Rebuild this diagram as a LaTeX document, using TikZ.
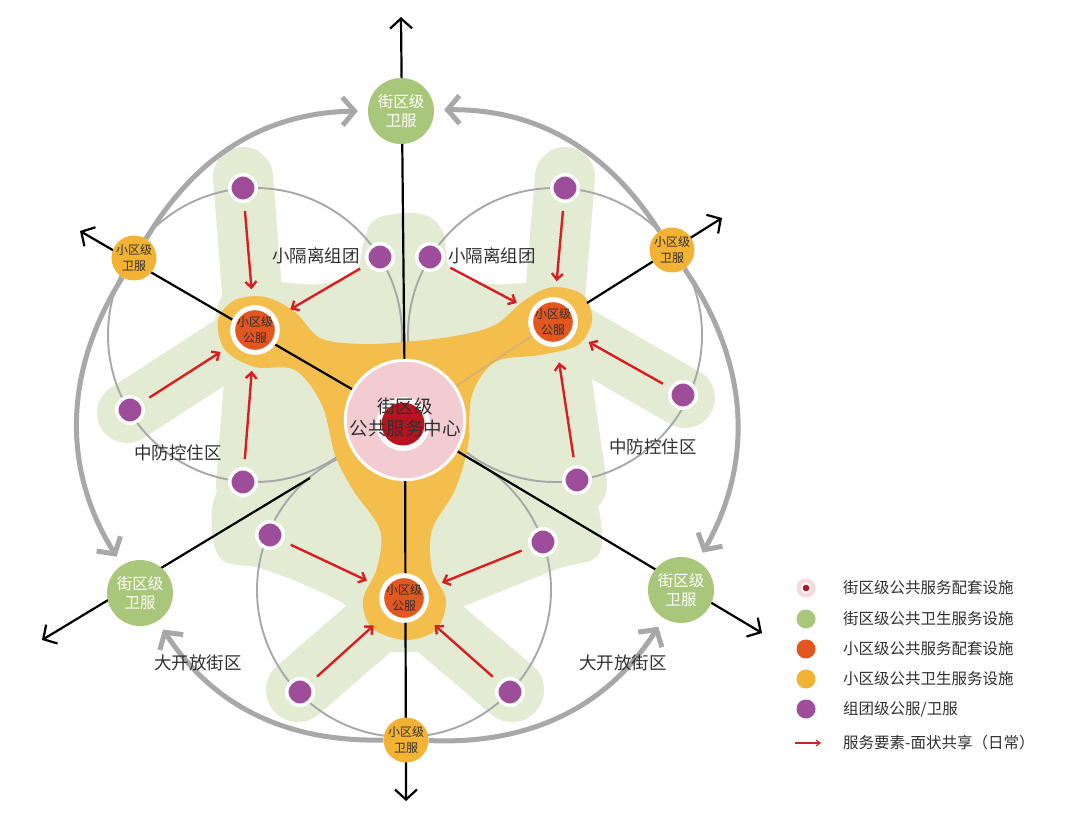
\documentclass[tikz,border=0pt]{standalone}
\usepackage{fontspec}
\setmainfont{Noto Sans CJK SC}
\usetikzlibrary{arrows.meta,calc}
\definecolor{leafgreen}{HTML}{E3EBD3}
\definecolor{amber}{HTML}{F4BE4C}
\definecolor{rust}{HTML}{E2561F}
\definecolor{sage}{HTML}{A9C77A}
\definecolor{gold}{HTML}{F2B234}
\definecolor{plum}{HTML}{9E4D9A}
\definecolor{blush}{HTML}{F2CCD0}
\definecolor{crimson}{HTML}{B9141E}
\definecolor{arrowred}{HTML}{D81E23}
\definecolor{ringgray}{HTML}{A8A8A8}
\definecolor{tanline}{HTML}{D6B071}
\definecolor{ink}{HTML}{303030}
\pgfdeclarelayer{blob}
\pgfdeclarelayer{axis}
\pgfsetlayers{blob,axis,main}

\begin{document}
\begin{tikzpicture}[x=1pt,y=1pt]
\tikzstyle{zutuan}=[circle,fill=plum,draw=white,line width=3.5pt,minimum size=26.5pt,inner sep=0pt]
\tikzstyle{gongfu}=[circle,fill=rust,draw=white,line width=5pt,minimum size=44pt,inner sep=0pt,align=center,text=ink,font=\fontsize{12}{15.5}\selectfont]
\tikzstyle{jiequ}=[circle,fill=sage,minimum size=66pt,inner sep=0pt,align=center,text=white,font=\fontsize{15.5}{19.5}\selectfont]
\tikzstyle{xiaoqu}=[circle,fill=gold,minimum size=44pt,inner sep=0pt,align=center,text=ink,font=\fontsize{12}{16}\selectfont]
\tikzstyle{hub}=[circle,fill=blush,draw=white,line width=3pt,minimum size=111pt,inner sep=0pt,text=ink,font=\fontsize{18.5}{22}\selectfont,
  path picture={\fill[white] ([shift={(-2pt,-4pt)}]path picture bounding box.center) circle[radius=27pt];
                \fill[crimson] ([shift={(-2pt,-4pt)}]path picture bounding box.center) circle[radius=21.5pt];}]
\tikzstyle{zone}=[inner sep=0pt,text=ink,font=\fontsize{17.5}{20}\selectfont]
\tikzstyle{flow}=[draw=arrowred,line width=2.4pt,-{Straight Barb[length=6pt,width=11pt]},shorten <=8pt,shorten >=16pt]
\tikzstyle{axisline}=[draw=black,line width=2.2pt]
\tikzstyle{tip}=[-{Straight Barb[length=10pt,width=22pt]}]
\tikzstyle{ring}=[draw=ringgray,line width=5pt,-{Straight Barb[length=12pt,width=28pt]},shorten >=10pt]
\tikzstyle{thinring}=[draw=ringgray,line width=1.9pt]
\tikzstyle{finger}=[draw=leafgreen,line width=60pt,line cap=round]
\tikzstyle{key}=[circle,minimum size=19pt,inner sep=0pt]
\tikzstyle{keytext}=[anchor=west,inner sep=0pt,text=ink,font=\fontsize{15.5}{18}\selectfont]

% centre and facilities
\node[hub] (c) at (405,-420) {\raisebox{5pt}{\begin{tabular}{@{}c@{}}街区级\\公共服务中心\end{tabular}}};
\node[jiequ] (gt) at (401,-111) {街区级\\卫服};
\node[jiequ] (gl) at (140,-593) {街区级\\卫服};
\node[jiequ] (gr) at (681,-590) {街区级\\卫服};
\node[xiaoqu] (ol) at (134,-258) {小区级\\卫服};
\node[xiaoqu] (or) at (672,-250) {小区级\\卫服};
\node[xiaoqu] (ob) at (406,-740) {小区级\\卫服};
\node[gongfu] (sl) at (255,-330) {小区级\\公服};
\node[gongfu] (sr) at (553,-322) {小区级\\公服};
\node[gongfu] (sb) at (404,-598) {小区级\\公服};

% group nodes
\node[zutuan] (l1) at (243,-188) {};
\node[zutuan] (l2) at (380,-257) {};
\node[zutuan] (l3) at (130,-410) {};
\node[zutuan] (l4) at (243,-482) {};
\node[zutuan] (r1) at (565,-188) {};
\node[zutuan] (r2) at (430,-257) {};
\node[zutuan] (r3) at (683,-395) {};
\node[zutuan] (r4) at (577,-480) {};
\node[zutuan] (b1) at (270,-535) {};
\node[zutuan] (b2) at (543,-542) {};
\node[zutuan] (b3) at (300,-692) {};
\node[zutuan] (b4) at (510,-692) {};

% axis ends
\coordinate (nN) at (401,-17);
\coordinate (nS) at (406,-801);
\coordinate (nW) at (80,-231);
\coordinate (nE) at (722,-218);
\coordinate (nSW) at (42,-640);
\coordinate (nSE) at (762,-633);
\coordinate (kE) at (587,-303);
\coordinate (kW) at (310,-478);

\begin{pgfonlayer}{blob}
\fill[white] (0,0) rectangle (1080,-824);
% green area
\fill[leafgreen] plot[smooth cycle,tension=0.6] coordinates {(372,-222) (395,-214) (425,-215) (443,-232) (450,-268) (480,-283) (530,-282) (548,-270) (575,-285) (590,-315) (600,-345) (575,-375) (578,-420) (585,-470) (600,-515) (598,-555) (560,-568) (500,-585) (462,-605) (445,-645) (404,-652) (365,-645) (345,-605) (305,-585) (260,-568) (220,-558) (212,-510) (228,-465) (240,-430) (228,-390) (215,-345) (220,-300) (245,-285) (275,-282) (320,-284) (355,-272) (363,-245)};
\draw[finger] (255,-330) -- (243,-177);
\draw[finger] (255,-330) -- (127,-413);
\draw[finger,line width=54pt] (255,-330) -- (243,-485);
\draw[finger] (553,-322) -- (565,-177);
\draw[finger] (553,-322) -- (685,-398);
\draw[finger] (553,-322) -- (577,-485);
\draw[finger] (404,-598) -- (270,-535);
\draw[finger] (404,-598) -- (543,-542);
\draw[finger,line width=64pt] (404,-598) -- (298,-690);
\draw[finger,line width=64pt] (404,-598) -- (512,-690);
% cluster circles
\draw[thinring] (255,-335) circle[radius=147pt];
\draw[thinring] (555,-335) circle[radius=147pt];
\draw[thinring] (404,-590) circle[radius=147pt];
% orange area
\fill[amber] plot[smooth cycle,tension=0.55] coordinates {(404,-342) (455,-336) (495,-325) (525,-300) (553,-287) (583,-295) (592,-320) (578,-345) (540,-355) (495,-362) (472,-395) (468,-445) (455,-490) (432,-530) (432,-570) (446,-600) (436,-630) (405,-640) (372,-628) (363,-600) (377,-568) (380,-530) (353,-490) (335,-455) (322,-405) (295,-370) (255,-367) (225,-350) (218,-320) (235,-300) (265,-297) (295,-312) (320,-338) (360,-344)};
\draw[tanline,line width=1.5pt] (c) -- (sr);
\end{pgfonlayer}

\begin{pgfonlayer}{axis}
\draw[axisline,tip] (c) -- (nN);
\draw[axisline,tip] (c) -- (nS);
\draw[axisline,tip] (c) -- (nW);
\draw[axisline,tip] (kE) -- (nE);
\draw[axisline,tip] (kW) -- (nSW);
\draw[axisline,tip] (c) -- (nSE);
% outer ring
\draw[ring] (ol) to[bend left=29] (gt);
\draw[ring] (or) to[bend right=29] (gt);
\draw[ring] (ol) to[bend right=32] (gl);
\draw[ring] (ob) to[bend left=29] (gl);
\draw[ring] (ob) to[bend right=30] (gr);
\draw[ring] (or) to[bend left=32] (gr);
\end{pgfonlayer}

% daily sharing
\draw[flow] (l1) -- (sl);
\draw[flow] (l2) -- (sl);
\draw[flow] (l3) -- (sl);
\draw[flow] (l4) -- (sl);
\draw[flow] (r1) -- (sr);
\draw[flow] (r2) -- (sr);
\draw[flow] (r3) -- (sr);
\draw[flow] (r4) -- (sr);
\draw[flow] (b1) -- (sb);
\draw[flow] (b2) -- (sb);
\draw[flow] (b3) -- (sb);
\draw[flow] (b4) -- (sb);

% zone labels
\node[zone] (q1) at (316,-256) {小隔离组团};
\node[zone] (q2) at (492,-256) {小隔离组团};
\node[zone] (q3) at (178,-453) {中防控住区};
\node[zone] (q4) at (653,-447) {中防控住区};
\node[zone] (q5) at (198,-663) {大开放街区};
\node[zone] (q6) at (623,-663) {大开放街区};

% legend
\node[key,fill=blush!75,path picture={\fill[white] (path picture bounding box.center) circle[radius=5.5pt];
      \fill[crimson] (path picture bounding box.center) circle[radius=3.3pt];}] (k1) at (806,-588) {};
\node[key,fill=sage] (k2) at (806,-619) {};
\node[key,fill=rust] (k3) at (806,-649) {};
\node[key,fill=gold] (k4) at (806,-679) {};
\node[key,fill=plum] (k5) at (806,-709) {};
\coordinate (k6) at (795,-743);
\coordinate (k7) at (821,-743);
\draw[flow,line width=1.2pt,shorten <=0pt,shorten >=0pt,-{Straight Barb[length=4pt,width=6pt]}] (k6) -- (k7);
\node[keytext] (t1) at (843,-588) {街区级公共服务配套设施};
\node[keytext] (t2) at (843,-619) {街区级公共卫生服务设施};
\node[keytext] (t3) at (843,-649) {小区级公共服务配套设施};
\node[keytext] (t4) at (843,-679) {小区级公共卫生服务设施};
\node[keytext] (t5) at (843,-709) {组团级公服/卫服};
\node[keytext] (t6) at (843,-743) {服务要素-面状共享（日常）};
\end{tikzpicture}
\end{document}
